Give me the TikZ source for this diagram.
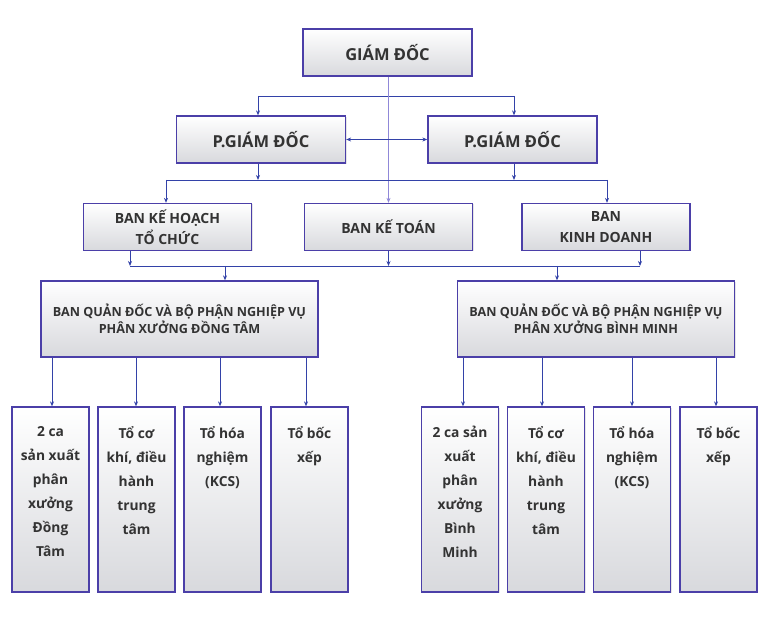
\documentclass[tikz,border=0pt]{standalone}
\usepackage{fontspec}
\setmainfont{Open Sans}
\usepackage{xcolor}
\usepackage{tikz}
\usetikzlibrary{arrows.meta,shadows,positioning}
\definecolor{mauvien}{HTML}{4B3FA8}
\definecolor{mauxanh}{HTML}{3342A8}
\definecolor{mautim}{HTML}{9088D8}
\definecolor{mauchu}{HTML}{333333}
\definecolor{maunen}{HTML}{D8D9DD}
\tikzset{
  khoi/.style={draw=mauvien,line width=1.3pt,top color=white,bottom color=maunen,
    drop shadow={shadow xshift=1pt,shadow yshift=-1pt,opacity=.2},
    text=mauchu,align=center,inner sep=0pt},
  hang1/.style={minimum width=169pt,minimum height=47pt,font=\bfseries\fontsize{16.5}{20}\selectfont},
  hang2/.style={minimum width=168pt,minimum height=47pt,font=\bfseries\fontsize{14}{21}\selectfont},
  hang3/.style={minimum width=277pt,minimum height=76pt,font=\bfseries\fontsize{12.6}{17}\selectfont},
  hop/.style={minimum width=77pt,minimum height=185pt},
  chuhop/.style={text=mauchu,align=center,inner sep=0pt,anchor=north,
    font=\bfseries\fontsize{13.8}{24}\selectfont,execute at begin node=\strut},
  noi/.style={mauxanh,line width=0.8pt},
  doc/.style={mautim,line width=1pt},
  mui/.style={-{Stealth[length=5pt,width=4pt]}}
}
\begin{document}
\begin{tikzpicture}[x=1pt,y=-1pt]
\useasboundingbox (0,0) rectangle (768,620);
% ban lanh dao
\node[khoi,hang1] (gd) at (387.5,52.5) {GIÁM ĐỐC};
\node[khoi,hang1] (pgd1) at (261,139.5) {P.GIÁM ĐỐC};
\node[khoi,hang1] (pgd2) at (512.5,139.5) {P.GIÁM ĐỐC};
% cac ban
\node[khoi,hang2] (bkh) at (167.5,227) {BAN KẾ HOẠCH\\TỔ CHỨC};
\node[khoi,hang2] (bkt) at (388.5,227) {BAN KẾ TOÁN};
\node[khoi,hang2] (bkd) at (606,227) {BAN\\KINH DOANH};
\node[khoi,hang3] (qdL) at (179.5,319) {BAN QUẢN ĐỐC VÀ BỘ PHẬN NGHIỆP VỤ\\PHÂN XƯỞNG ĐỒNG TÂM};
\node[khoi,hang3] (qdR) at (596,319) {BAN QUẢN ĐỐC VÀ BỘ PHẬN NGHIỆP VỤ\\PHÂN XƯỞNG BÌNH MINH};
% noi cap tren
\coordinate (t1) at (258,96);
\coordinate (t2) at (514,96);
\draw[noi] (t1) -- (t2);
\draw[noi,mui] (t1) -- (t1 |- pgd1.north);
\draw[noi,mui] (t2) -- (t2 |- pgd2.north);
\draw[doc,mui] (gd.south -| bkt.north) -- (bkt.north);
\draw[noi,{Stealth[length=5pt,width=4pt]}-{Stealth[length=5pt,width=4pt]}] (pgd1.east) -- (pgd2.west);
\coordinate (m1) at (166,180);
\coordinate (m2) at (607,180);
\draw[noi] (m1) -- (m2);
\draw[noi,mui] (pgd1.south -| t1) -- (t1 |- m1);
\draw[noi,mui] (pgd2.south -| t2) -- (t2 |- m1);
\draw[noi,mui] (m1) -- (m1 |- bkh.north);
\draw[noi,mui] (m2) -- (m2 |- bkd.north);
% noi xuong phan xuong
\coordinate (n1) at (130,266);
\coordinate (n2) at (640,266);
\draw[noi] (n1) -- (n2);
\draw[noi,mui] (bkh.south -| n1) -- (n1);
\draw[noi,mui] (bkt.south) -- (bkt.south |- n1);
\draw[noi,mui] (bkd.south -| n2) -- (n2);
\coordinate (q1) at (225,266);
\coordinate (q2) at (557,266);
\draw[noi,mui] (q1) -- (q1 |- qdL.north);
\draw[noi,mui] (q2) -- (q2 |- qdR.north);
% cac to
\foreach \i/\x/\ax/\txt in {1/50.5/52/{2 ca\\sản xuất\\phân\\xưởng\\Đồng\\Tâm},
    2/136.5/136/{Tổ cơ\\khí, điều\\hành\\trung\\tâm},
    3/222.5/220/{Tổ hóa\\nghiệm\\(KCS)},
    4/309.5/306/{Tổ bốc\\xếp}}{
  \node[khoi,hop] (l\i) at (\x,499.5) {};
  \node[chuhop] (lt\i) at (\x,426) {\txt};
  \coordinate (a\i) at (\ax,380);
  \draw[noi,mui] (qdL.south -| a\i) -- (a\i |- l\i.north);}
\foreach \i/\x/\ax/\txt in {5/460/463/{2 ca sản\\xuất\\phân\\xưởng\\Bình\\Minh},
    6/546/542/{Tổ cơ\\khí, điều\\hành\\trung\\tâm},
    7/632/632/{Tổ hóa\\nghiệm\\(KCS)},
    8/718.5/716/{Tổ bốc\\xếp}}{
  \node[khoi,hop] (l\i) at (\x,499.5) {};
  \node[chuhop] (lt\i) at (\x,426) {\txt};
  \coordinate (a\i) at (\ax,380);
  \draw[noi,mui] (qdR.south -| a\i) -- (a\i |- l\i.north);}
\end{tikzpicture}
\end{document}
